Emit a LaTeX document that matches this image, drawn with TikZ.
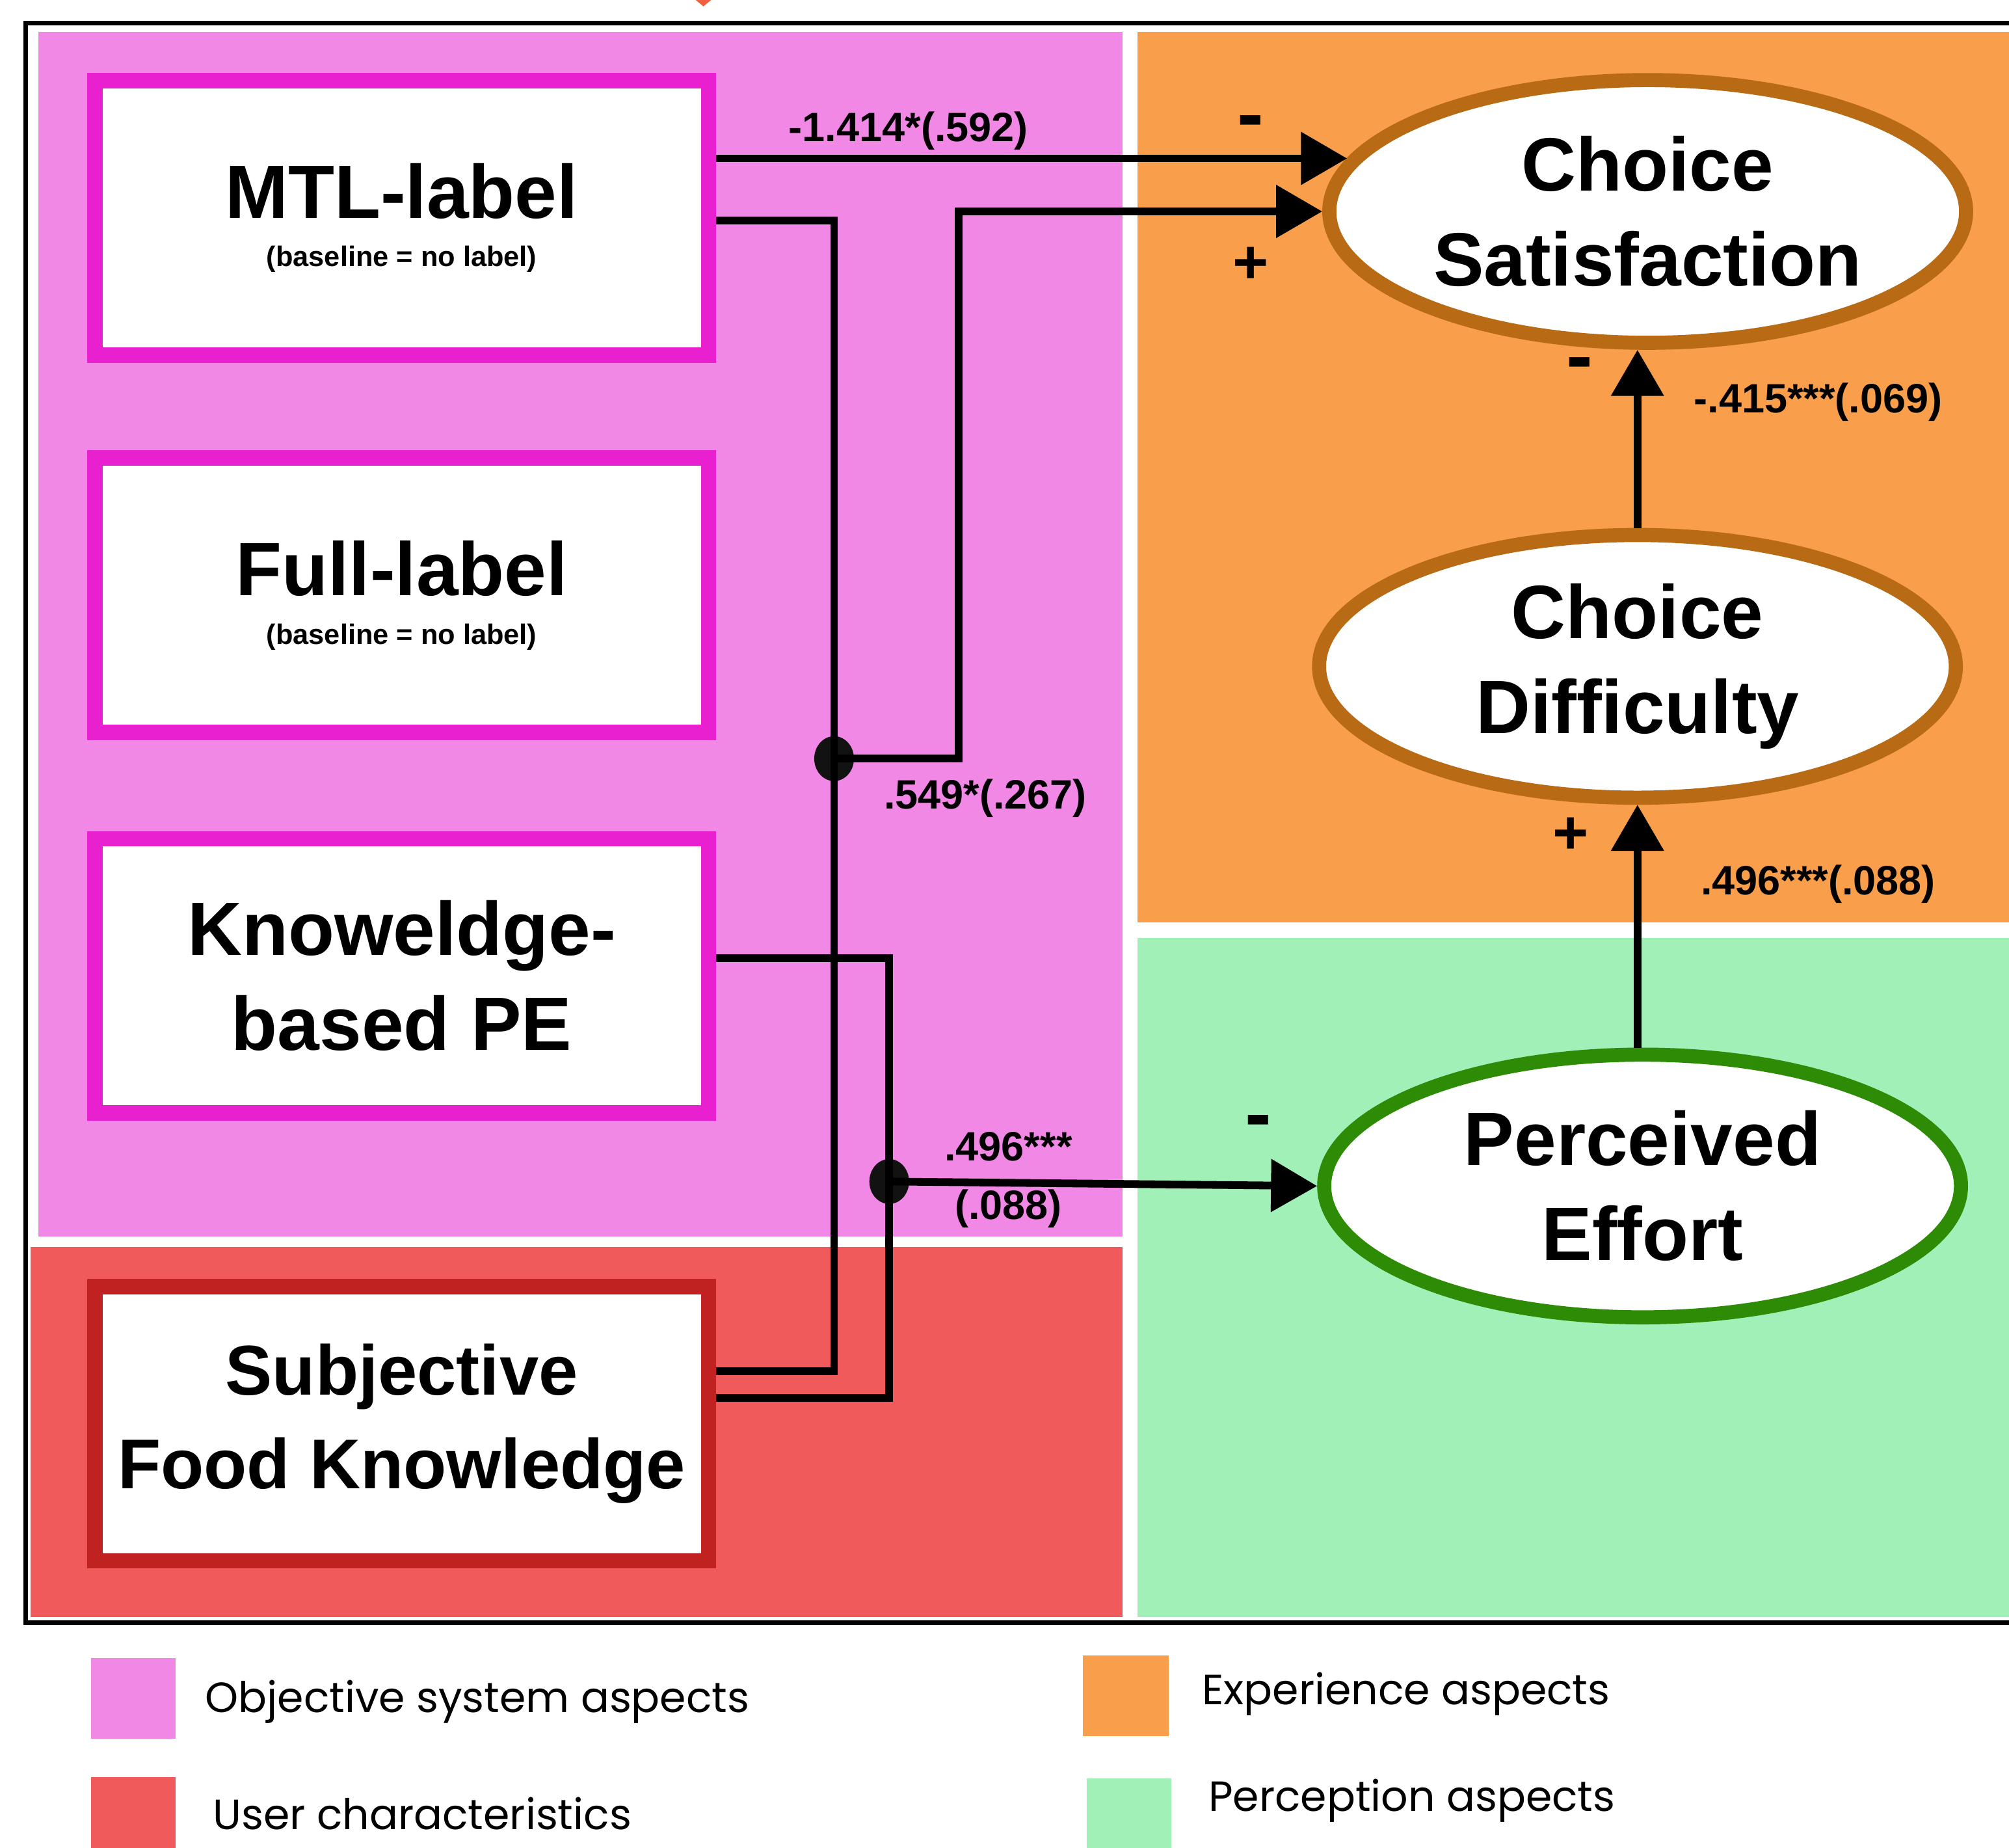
\documentclass[tikz,border=0pt]{standalone}
\usepackage{fontspec}
\setmainfont{Liberation Sans}
\newfontfamily\legendfont{Poppins}
\usetikzlibrary{shapes.geometric,arrows.meta}
\definecolor{pinkbg}{RGB}{242,136,229}
\definecolor{magborder}{RGB}{232,32,208}
\definecolor{redbg}{RGB}{240,90,90}
\definecolor{redborder}{RGB}{192,34,34}
\definecolor{orangebg}{RGB}{249,158,74}
\definecolor{brownborder}{RGB}{184,106,20}
\definecolor{greenbg}{RGB}{160,240,184}
\definecolor{greenborder}{RGB}{46,139,5}
\definecolor{tipred}{RGB}{240,96,64}
\begin{document}
\begin{tikzpicture}[x=1pt,y=-1pt,
  box/.style={draw, line width=12pt, fill=white, minimum width=479pt, minimum height=214pt, inner sep=0pt, align=center,
    font=\fontsize{59}{74}\selectfont\bfseries},
  ell/.style={ellipse, draw=brownborder, line width=11pt, fill=white, minimum width=497pt, minimum height=205pt, inner sep=0pt, align=center,
    font=\fontsize{59}{74}\selectfont\bfseries},
  conn/.style={line width=6pt},
  arr/.style={conn, -{Triangle[length=36pt,width=40pt]}},
  lbl/.style={font=\fontsize{32}{38}\selectfont\bfseries, inner sep=0pt},
  sign/.style={font=\fontsize{48}{52}\selectfont\bfseries, inner sep=0pt},
  minus/.style={font=\fontsize{62}{64}\selectfont\bfseries, inner sep=0pt},
  dotnode/.style={ellipse, fill=black!93, minimum width=31pt, minimum height=35pt, inner sep=0pt},
  legtext/.style={font=\legendfont\fontsize{33}{38}\selectfont, anchor=west, inner sep=0pt},
]
\useasboundingbox (0,0) rectangle (1568,1442);
% tiny mark at top
\fill[tipred] (543,0) -- (555,0) -- (549,5) -- cycle;
% regions
\fill[pinkbg] (30,25) rectangle (876,965);
\fill[redbg] (24,973) rectangle (876,1262);
\fill[orangebg] (888,25) rectangle (1600,720);
\fill[greenbg] (888,732) rectangle (1600,1262);
\draw[line width=3.5pt] (20,18) rectangle (1620,1266);

% boxes
\node[box, draw=magborder] (mtl) at (313.5,170) {MTL-label\\[-36pt]{\fontsize{22}{26}\selectfont (baseline = no label)}};
\node[box, draw=magborder] (full) at (313.5,464.5) {Full-label\\[-36pt]{\fontsize{22}{26}\selectfont (baseline = no label)}};
\node[box, draw=magborder] (kpe) at (313.5,761.5) {Knoweldge-\\based PE};
\node[box, draw=redborder, font=\fontsize{55}{73}\selectfont\bfseries] (sfk) at (313.5,1111) {Subjective\\Food Knowledge};

% ellipses
\node[ell] (cs) at (1286,165) {Choice\\Satisfaction};
\node[ell] (cd) at (1278,520) {Choice\\Difficulty};
\node[ell, draw=greenborder] (pe) at (1282,925.5) {Perceived\\Effort};

% dots
\node[dotnode] (dot1) at (651,592) {};
\node[dotnode] (dot2) at (694,922) {};

% connectors
\draw[arr] (mtl.east |- cs.170) -- (cs.170);
\draw[conn] ([yshift=-2pt]mtl.east) -| (dot1.center) |- ([yshift=41pt]sfk.east);
\draw[arr] (dot1.center) -- ++(97,0) |- (cs.west);
\draw[conn] ([yshift=14pt]kpe.east) -| (dot2.center) |- ([yshift=20pt]sfk.east);
\draw[arr] (dot2.center) -- (pe.west);
\draw[arr] (cd.north) -- (cd.north |- cs.south);
\draw[arr] (cd.south |- pe.north) -- (cd.south);

% labels
\node[lbl] at (709,102) {-1.414*(.592)};
\node[minus] at (976,100) {-};
\node[sign] at (976,207) {+};
\node[lbl] at (769,623) {.549*(.267)};
\node[lbl] at (787,895) {.496***};
\node[lbl] at (787,943) {(.088)};
\node[minus] at (982,880) {-};
\node[minus] at (1233,289) {-};
\node[lbl] at (1419,314) {-.415***(.069)};
\node[sign] at (1226,652) {+};
\node[lbl] at (1419,690) {.496***(.088)};

% legend
\fill[pinkbg] (71,1294) rectangle (137,1357);
\node[legtext] at (160,1328) {Objective system aspects};
\fill[redbg] (71,1387) rectangle (137,1442);
\node[legtext] at (166,1415) {User characteristics};
\fill[orangebg] (845,1292) rectangle (912,1355);
\node[legtext] at (938,1322) {Experience aspects};
\fill[greenbg] (848,1388) rectangle (914,1442);
\node[legtext] at (943,1405) {Perception aspects};
\end{tikzpicture}
\end{document}
